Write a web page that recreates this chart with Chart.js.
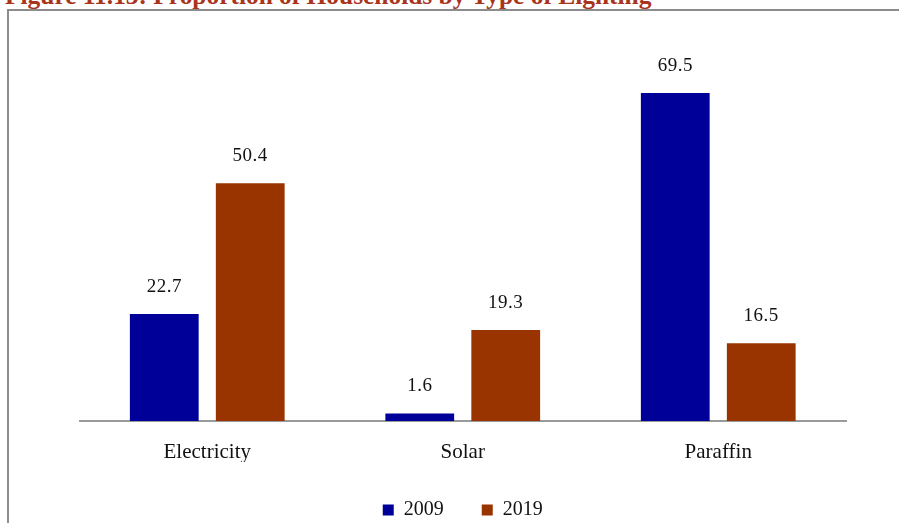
<!DOCTYPE html>
<html>
<head>
<meta charset="utf-8">
<script src="https://cdn.jsdelivr.net/npm/chart.js@4"></script>
<style>
  html, body { margin: 0; padding: 0; background: #fff; }
  body { width: 899px; height: 523px; position: relative; overflow: hidden; }
  #title {
    position: absolute; left: 5px; top: -17px; white-space: nowrap;
    font-family: "Liberation Serif", serif; font-weight: bold; font-size: 25.4px;
    color: #a8341c; line-height: 25px;
  }
  #frame {
    position: absolute; left: 7px; top: 9px; width: 900px; height: 520px;
    border-left: 2px solid #8c8c8c; border-top: 2px solid #8c8c8c;
    box-sizing: border-box; background: #fff;
  }
  #wrap { position: absolute; left: 0; top: 0; width: 899px; height: 530px; }
</style>
</head>
<body>
<div id="frame"></div>
<div id="title">Figure 11.13: Proportion of Households by Type of Lighting</div>
<div id="wrap"><canvas id="c" width="899" height="530"></canvas></div>
<script>
const categories = ["Electricity", "Solar", "Paraffin"];
const seriesNames = ["2009", "2019"];
const values2009 = [22.7, 1.6, 69.5];
const values2019 = [50.4, 19.3, 16.5];

const FONT = '"Liberation Serif", "DejaVu Serif", serif';

// Writes each bar's value just above it
const valueLabels = {
  id: 'valueLabels',
  afterDatasetsDraw(chart) {
    const ctx = chart.ctx;
    ctx.save();
    ctx.font = '19px ' + FONT;
    ctx.letterSpacing = '0.5px';
    ctx.fillStyle = '#111';
    ctx.textAlign = 'center';
    ctx.textBaseline = 'middle';
    chart.data.datasets.forEach((ds, i) => {
      chart.getDatasetMeta(i).data.forEach((bar, j) => {
        ctx.fillText(String(ds.data[j]), bar.x, bar.y - 27);
      });
    });
    ctx.restore();
  }
};

new Chart(document.getElementById('c'), {
  type: 'bar',
  data: {
    labels: categories,
    datasets: [
      { label: seriesNames[0], data: values2009, backgroundColor: '#000099' },
      { label: seriesNames[1], data: values2019, backgroundColor: '#993300' }
    ]
  },
  options: {
    responsive: false,
    animation: false,
    devicePixelRatio: 1,
    layout: { padding: { left: 79.5, right: 53, top: 43.5, bottom: 0 } },
    datasets: { bar: { categoryPercentage: 0.673, barPercentage: 0.8 } },
    scales: {
      x: {
        grid: { display: false, drawTicks: false },
        border: { display: true, color: '#9a9a9a', width: 2 },
        ticks: { color: '#111', padding: 22.5, font: { family: FONT, size: 21, lineHeight: 0.9 } },
        afterFit(axis) { axis.height = 41; }
      },
      y: { display: false, min: 0, max: 80 }
    },
    plugins: {
      legend: {
        position: 'bottom',
        labels: {
          color: '#111', boxWidth: 11, boxHeight: 11, padding: 38,
          font: { family: FONT, size: 20 }
        }
      },
      tooltip: { enabled: false }
    }
  },
  plugins: [valueLabels]
});
</script>
</body>
</html>
